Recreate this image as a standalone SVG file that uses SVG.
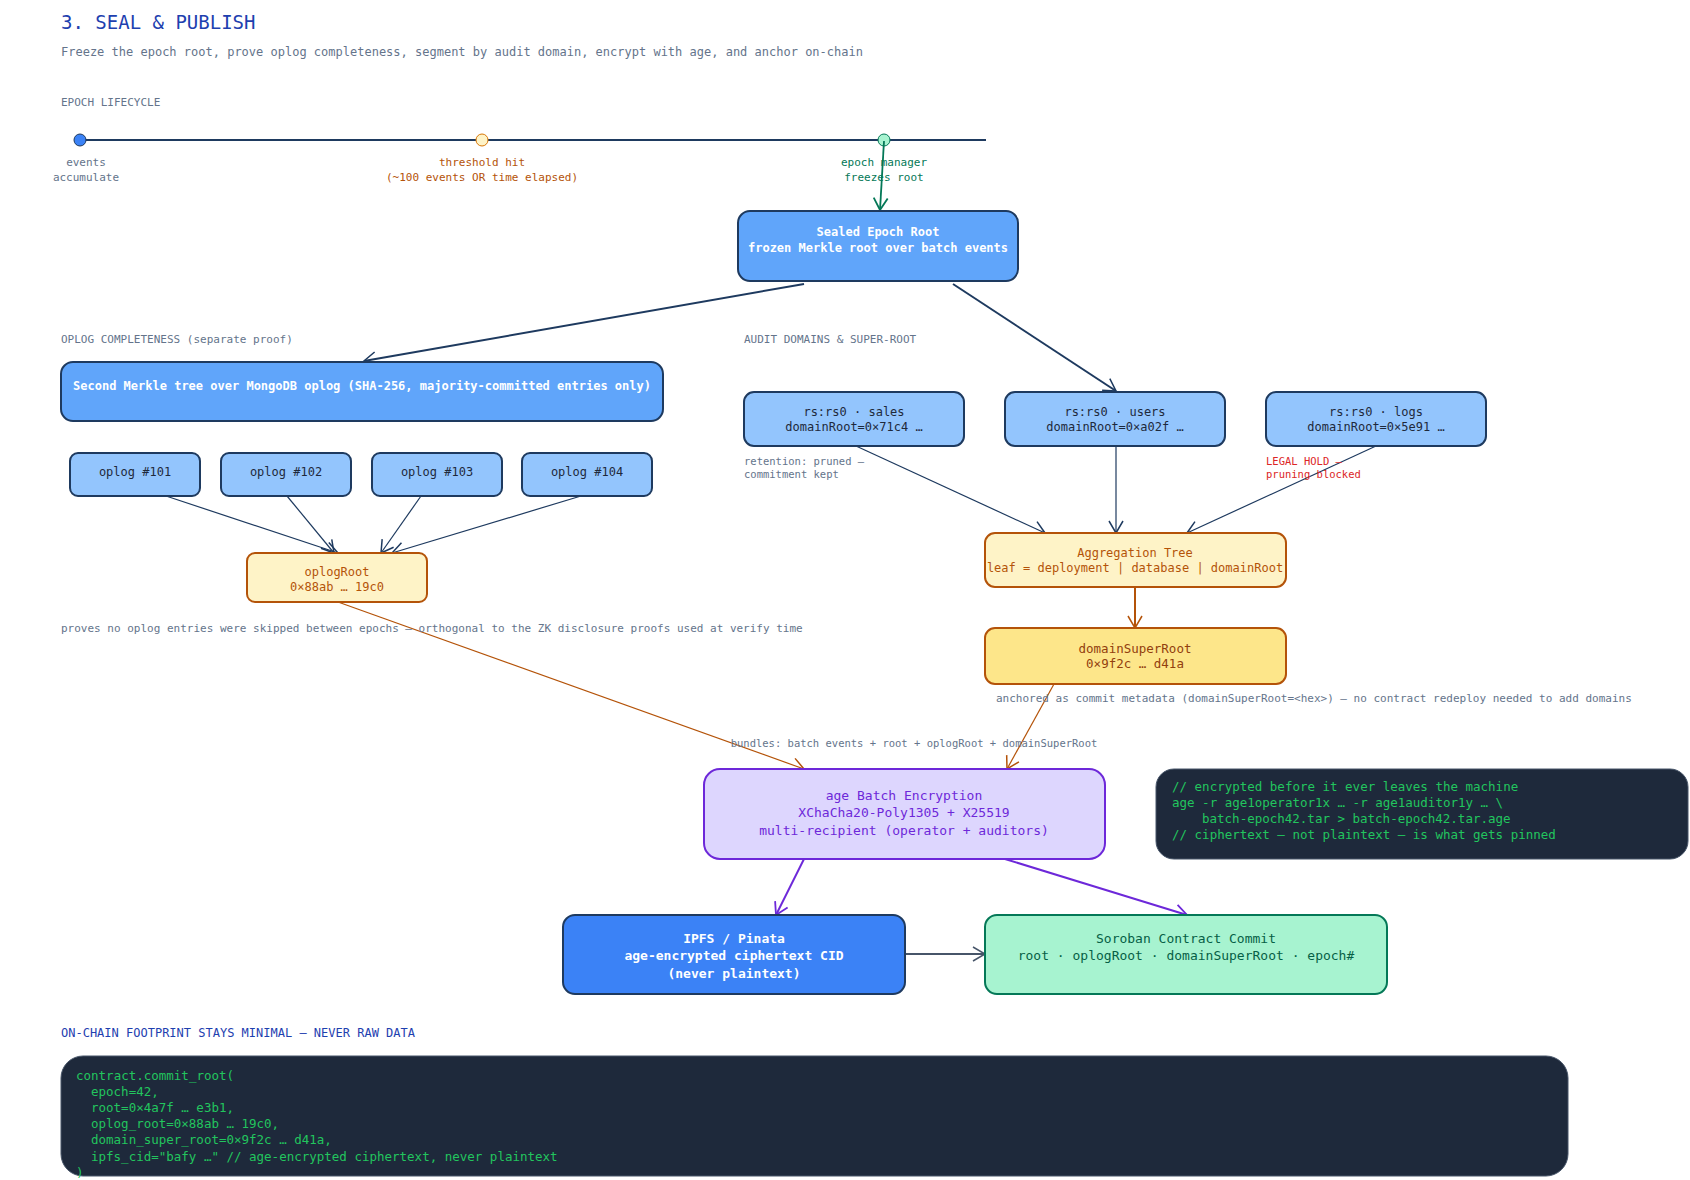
<svg xmlns="http://www.w3.org/2000/svg" width="1690" height="1180" viewBox="0 0 1690 1180">
<style>
text{font-family:"DejaVu Sans Mono","Liberation Mono",monospace}
.t{font-size:13px;text-anchor:middle}
.n{font-size:11px;fill:#64748b}
.b{stroke-width:2}
.code{font-size:12.5px;fill:#22c55e}
</style>
<defs>
<marker id="aN" markerWidth="16" markerHeight="16" refX="13" refY="8" orient="auto" markerUnits="userSpaceOnUse"><path d="M1,1 L13,8 L1,15" fill="none" stroke="#1e3a5f" stroke-width="1.5"/></marker>
<marker id="aO" markerWidth="16" markerHeight="16" refX="13" refY="8" orient="auto" markerUnits="userSpaceOnUse"><path d="M1,1 L13,8 L1,15" fill="none" stroke="#b45309" stroke-width="1.5"/></marker>
<marker id="aP" markerWidth="16" markerHeight="16" refX="13" refY="8" orient="auto" markerUnits="userSpaceOnUse"><path d="M1,1 L13,8 L1,15" fill="none" stroke="#6d28d9" stroke-width="1.8"/></marker>
<marker id="aG" markerWidth="16" markerHeight="16" refX="13" refY="8" orient="auto" markerUnits="userSpaceOnUse"><path d="M1,1 L13,8 L1,15" fill="none" stroke="#047857" stroke-width="1.8"/></marker>
<marker id="aS" markerWidth="16" markerHeight="16" refX="13" refY="8" orient="auto" markerUnits="userSpaceOnUse"><path d="M1,1 L13,8 L1,15" fill="none" stroke="#475569" stroke-width="1.5"/></marker>
</defs>
<rect width="1690" height="1180" fill="#fff"/>
<text x="61" y="29" font-size="19" fill="#1e40af">3. SEAL &amp; PUBLISH</text>
<text x="61" y="56" font-size="12" fill="#64748b">Freeze the epoch root, prove oplog completeness, segment by audit domain, encrypt with age, and anchor on-chain</text>
<text x="61" y="106" class="n">EPOCH LIFECYCLE</text>
<g id="timeline">
<line x1="80" y1="140" x2="986" y2="140" stroke="#1e3a5f" stroke-width="2"/>
<circle cx="80" cy="140" r="6" fill="#3b82f6" stroke="#1e3a5f"/>
<circle cx="482" cy="140" r="6" fill="#fef3c7" stroke="#d97706"/>
<circle cx="884" cy="140" r="6" fill="#a7f3d0" stroke="#047857"/>
<text x="86" y="166" class="t n" style="font-size:11px">events</text>
<text x="86" y="181" class="t n" style="font-size:11px">accumulate</text>
<text x="482" y="166" class="t" style="font-size:11px;fill:#b45309">threshold hit</text>
<text x="482" y="181" class="t" style="font-size:11px;fill:#b45309">(~100 events OR time elapsed)</text>
<text x="884" y="166" class="t" style="font-size:11px;fill:#047857">epoch manager</text>
<text x="884" y="181" class="t" style="font-size:11px;fill:#047857">freezes root</text>
</g>
<g id="connectors" fill="none">
<line x1="884" y1="141" x2="880" y2="210" stroke="#047857" stroke-width="1.8" marker-end="url(#aG)"/>
<line x1="804" y1="284" x2="364" y2="361" stroke="#1e3a5f" stroke-width="2" marker-end="url(#aN)"/>
<line x1="953" y1="284" x2="1116" y2="391" stroke="#1e3a5f" stroke-width="2" marker-end="url(#aN)"/>
<line x1="166" y1="496" x2="338" y2="553" stroke="#1e3a5f" stroke-width="1.2" marker-end="url(#aN)"/>
<line x1="287" y1="496" x2="334" y2="553" stroke="#1e3a5f" stroke-width="1.2" marker-end="url(#aN)"/>
<line x1="421" y1="496" x2="381" y2="553" stroke="#1e3a5f" stroke-width="1.2" marker-end="url(#aN)"/>
<line x1="581" y1="496" x2="392" y2="553" stroke="#1e3a5f" stroke-width="1.2" marker-end="url(#aN)"/>
<line x1="856" y1="446" x2="1045" y2="533" stroke="#1e3a5f" stroke-width="1.2" marker-end="url(#aN)"/>
<line x1="1116" y1="446" x2="1116" y2="533" stroke="#1e3a5f" stroke-width="1.2" marker-end="url(#aN)"/>
<line x1="1376" y1="446" x2="1187" y2="533" stroke="#1e3a5f" stroke-width="1.2" marker-end="url(#aN)"/>
<line x1="1135" y1="587" x2="1135" y2="628" stroke="#b45309" stroke-width="2" marker-end="url(#aO)"/>
<line x1="338" y1="602" x2="804" y2="769" stroke="#b45309" stroke-width="1.2" marker-end="url(#aO)"/>
<line x1="1054" y1="684" x2="1007" y2="769" stroke="#b45309" stroke-width="1.2" marker-end="url(#aO)"/>
<line x1="804" y1="859" x2="776" y2="915" stroke="#6d28d9" stroke-width="2" marker-end="url(#aP)"/>
<line x1="1005" y1="859" x2="1187" y2="915" stroke="#6d28d9" stroke-width="2" marker-end="url(#aP)"/>
<line x1="905" y1="954" x2="985" y2="954" stroke="#475569" stroke-width="1.8" marker-end="url(#aS)"/>
</g>
<g id="sealed"><rect x="738" y="211" width="280" height="70" rx="12" fill="#60a5fa" stroke="#1e3a5f" class="b"/>
<text x="878" y="236" class="t" fill="#fff" font-weight="bold" style="font-size:12px">Sealed Epoch Root</text>
<text x="878" y="252" class="t" fill="#fff" font-weight="bold" style="font-size:12px">frozen Merkle root over batch events</text></g>
<text x="61" y="343" class="n">OPLOG COMPLETENESS (separate proof)</text>
<text x="744" y="343" class="n">AUDIT DOMAINS &amp; SUPER-ROOT</text>
<g id="oplogtree"><rect x="61" y="362" width="602" height="59" rx="12" fill="#60a5fa" stroke="#1e3a5f" class="b"/>
<text x="362" y="390" class="t" fill="#fff" font-weight="bold" style="font-size:12px">Second Merkle tree over MongoDB oplog (SHA-256, majority-committed entries only)</text></g>
<g id="op101"><rect x="70" y="453" width="130" height="43" rx="8" fill="#93c5fd" stroke="#1e3a5f" class="b"/><text x="135" y="476" class="t" fill="#1e293b" style="font-size:12px">oplog #101</text></g>
<g id="op102"><rect x="221" y="453" width="130" height="43" rx="8" fill="#93c5fd" stroke="#1e3a5f" class="b"/><text x="286" y="476" class="t" fill="#1e293b" style="font-size:12px">oplog #102</text></g>
<g id="op103"><rect x="372" y="453" width="130" height="43" rx="8" fill="#93c5fd" stroke="#1e3a5f" class="b"/><text x="437" y="476" class="t" fill="#1e293b" style="font-size:12px">oplog #103</text></g>
<g id="op104"><rect x="522" y="453" width="130" height="43" rx="8" fill="#93c5fd" stroke="#1e3a5f" class="b"/><text x="587" y="476" class="t" fill="#1e293b" style="font-size:12px">oplog #104</text></g>
<g id="oplogRoot"><rect x="247" y="553" width="180" height="49" rx="8" fill="#fef3c7" stroke="#b45309" class="b"/>
<text x="337" y="576" class="t" fill="#b45309" style="font-size:12px">oplogRoot</text>
<text x="337" y="591" class="t" fill="#b45309" style="font-size:12px">0×88ab … 19c0</text></g>
<text x="61" y="632" class="n">proves no oplog entries were skipped between epochs — orthogonal to the ZK disclosure proofs used at verify time</text>
<g id="dsales"><rect x="744" y="392" width="220" height="54" rx="10" fill="#93c5fd" stroke="#1e3a5f" class="b"/>
<text x="854" y="416" class="t" fill="#1e293b" style="font-size:12px">rs:rs0 · sales</text><text x="854" y="431" class="t" fill="#1e293b" style="font-size:12px">domainRoot=0×71c4 …</text></g>
<g id="dusers"><rect x="1005" y="392" width="220" height="54" rx="10" fill="#93c5fd" stroke="#1e3a5f" class="b"/>
<text x="1115" y="416" class="t" fill="#1e293b" style="font-size:12px">rs:rs0 · users</text><text x="1115" y="431" class="t" fill="#1e293b" style="font-size:12px">domainRoot=0×a02f …</text></g>
<g id="dlogs"><rect x="1266" y="392" width="220" height="54" rx="10" fill="#93c5fd" stroke="#1e3a5f" class="b"/>
<text x="1376" y="416" class="t" fill="#1e293b" style="font-size:12px">rs:rs0 · logs</text><text x="1376" y="431" class="t" fill="#1e293b" style="font-size:12px">domainRoot=0×5e91 …</text></g>
<text x="744" y="465" class="n" style="font-size:10.5px">retention: pruned —</text>
<text x="744" y="478" class="n" style="font-size:10.5px">commitment kept</text>
<text x="1266" y="465" style="font-size:10.5px" fill="#dc2626">LEGAL HOLD —</text>
<text x="1266" y="478" style="font-size:10.5px" fill="#dc2626">pruning blocked</text>
<g id="agg"><rect x="985" y="533" width="301" height="54" rx="10" fill="#fef3c7" stroke="#b45309" class="b"/>
<text x="1135" y="557" class="t" fill="#b45309" style="font-size:12px">Aggregation Tree</text>
<text x="1135" y="572" class="t" fill="#b45309" style="font-size:12px">leaf = deployment | database | domainRoot</text></g>
<g id="super"><rect x="985" y="628" width="301" height="56" rx="10" fill="#fde68a" stroke="#b45309" class="b"/>
<text x="1135" y="653" class="t" fill="#92400e" style="font-size:12.5px">domainSuperRoot</text>
<text x="1135" y="668" class="t" fill="#92400e" style="font-size:12.5px">0×9f2c … d41a</text></g>
<text x="996" y="702" class="n">anchored as commit metadata (domainSuperRoot=&lt;hex&gt;) — no contract redeploy needed to add domains</text>
<text x="914" y="747" class="t n" style="font-size:10.5px">bundles: batch events + root + oplogRoot + domainSuperRoot</text>
<g id="age"><rect x="704" y="769" width="401" height="90" rx="16" fill="#ddd6fe" stroke="#6d28d9" class="b"/>
<text x="904" y="800" class="t" fill="#6d28d9">age Batch Encryption</text>
<text x="904" y="817" class="t" fill="#6d28d9">XChaCha20-Poly1305 + X25519</text>
<text x="904" y="835" class="t" fill="#6d28d9">multi-recipient (operator + auditors)</text></g>
<g id="agecode"><rect x="1156" y="769" width="532" height="90" rx="18" fill="#1e293b" stroke="#475569"/>
<text x="1172" y="791" class="code">// encrypted before it ever leaves the machine</text>
<text x="1172" y="807" class="code">age -r age1operator1x … -r age1auditor1y … \</text>
<text x="1202" y="823" class="code">batch-epoch42.tar &gt; batch-epoch42.tar.age</text>
<text x="1172" y="839" class="code">// ciphertext — not plaintext — is what gets pinned</text></g>
<g id="ipfs"><rect x="563" y="915" width="342" height="79" rx="12" fill="#3b82f6" stroke="#1e3a5f" class="b"/>
<text x="734" y="943" class="t" fill="#fff" font-weight="bold">IPFS / Pinata</text>
<text x="734" y="960" class="t" fill="#fff" font-weight="bold">age-encrypted ciphertext CID</text>
<text x="734" y="978" class="t" fill="#fff" font-weight="bold">(never plaintext)</text></g>
<g id="soroban"><rect x="985" y="915" width="402" height="79" rx="12" fill="#a7f3d0" stroke="#047857" class="b"/>
<text x="1186" y="943" class="t" fill="#065f46">Soroban Contract Commit</text>
<text x="1186" y="960" class="t" fill="#065f46">root · oplogRoot · domainSuperRoot · epoch#</text></g>
<text x="61" y="1037" font-size="12" fill="#1e40af">ON-CHAIN FOOTPRINT STAYS MINIMAL — NEVER RAW DATA</text>
<g id="commitcode"><rect x="61" y="1056" width="1507" height="120" rx="22" fill="#1e293b" stroke="#475569"/>
<text x="76" y="1080" class="code">contract.commit_root(</text>
<text x="91" y="1096" class="code">epoch=42,</text>
<text x="91" y="1112" class="code">root=0×4a7f … e3b1,</text>
<text x="91" y="1128" class="code">oplog_root=0×88ab … 19c0,</text>
<text x="91" y="1144" class="code">domain_super_root=0×9f2c … d41a,</text>
<text x="91" y="1161" class="code">ipfs_cid="bafy …"  // age-encrypted ciphertext, never plaintext</text>
<text x="76" y="1177" class="code">)</text></g>
</svg>
